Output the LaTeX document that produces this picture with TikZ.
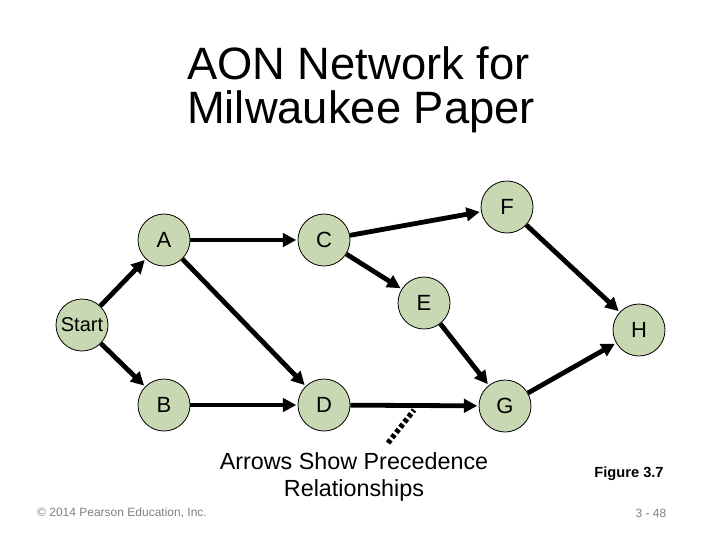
\documentclass[tikz,border=0pt]{standalone}
\usepackage{fontspec}
\setmainfont{Liberation Sans}
\usetikzlibrary{arrows.meta}
\begin{document}
\begin{tikzpicture}[x=0.75pt,y=-0.75pt,
  act/.style={circle,draw=black,line width=0.6pt,fill={rgb,255:red,200;green,216;blue,178},minimum size=39pt,inner sep=0pt,font=\fontsize{16.5}{16.5}\selectfont},
  arr/.style={line width=3.6pt,-{Triangle[length=10pt,width=10pt]},shorten >=1pt}]
\useasboundingbox (0,0) rectangle (720,540);
\node[align=left,font=\fontsize{34}{33}\selectfont] (t) at (361,90) {AON Network for\\Milwaukee Paper};
\node[act,font=\fontsize{15}{15}\selectfont] (S) at (82,325) {Start};
\node[act] (A) at (164,240) {A};
\node[act] (B) at (164,405) {B};
\node[act] (C) at (324,240) {C};
\node[act] (D) at (324,405) {D};
\node[act] (E) at (424,303) {E};
\node[act] (F) at (507,207) {F};
\node[act] (G) at (505,406) {G};
\node[act] (H) at (639,330) {H};
\draw[arr] (S) -- (A);
\draw[arr] (S) -- (B);
\draw[arr] (A) -- (C);
\draw[arr] (A) -- (D);
\draw[arr] (B) -- (D);
\draw[arr] (C) -- (F);
\draw[arr] (C) -- (E);
\draw[arr] (D) -- (G);
\draw[arr] (E) -- (G);
\draw[arr] (F) -- (H);
\draw[arr] (G) -- (H);
\coordinate (p1) at (388,443);
\coordinate (p2) at (414,410);
\draw[line width=4pt,dash pattern=on 3pt off 2pt] (p1) -- (p2);
\node[align=center,font=\fontsize{17.5}{20}\selectfont] (cap) at (354,477) {Arrows Show Precedence\\Relationships};
\node[font=\fontsize{11}{12}\selectfont\bfseries] (fig) at (629,474) {Figure 3.7};
\node[font=\fontsize{9}{10}\selectfont,text=gray] (cp) at (122,513) {© 2014 Pearson Education, Inc.};
\node[font=\fontsize{9}{10}\selectfont,text=gray] (pg) at (651,513) {3 - 48};
\end{tikzpicture}
\end{document}
